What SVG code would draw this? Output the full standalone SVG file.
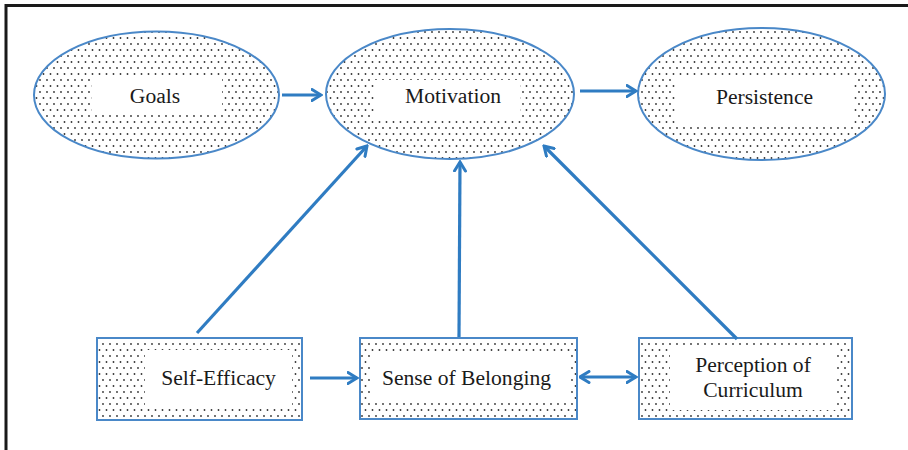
<svg xmlns="http://www.w3.org/2000/svg" width="908" height="450" viewBox="0 0 908 450">
<defs>
<pattern id="dots" width="7" height="12" patternUnits="userSpaceOnUse">
<rect width="7" height="12" fill="#fff"/>
<circle cx="1.5" cy="2" r="0.9" fill="#333"/>
<circle cx="5" cy="8" r="0.9" fill="#333"/>
</pattern>
<marker id="ah" viewBox="0 0 12 14" markerWidth="12" markerHeight="14" refX="10.5" refY="7" orient="auto-start-reverse" markerUnits="userSpaceOnUse">
<path d="M1.5,1.5 L10.5,7 L1.5,12.5" fill="none" stroke="#2f7cc2" stroke-width="3" stroke-linecap="round" stroke-linejoin="miter"/>
</marker>
</defs>
<style>
.node{fill:url(#dots);stroke:#4a88c8;stroke-width:2}
.box{fill:#fff}
.lbl{font-family:"Liberation Serif","Times New Roman",serif;font-size:21.6px;fill:#1a1a1a;text-anchor:middle}
.conn{stroke:#2f7cc2;stroke-width:3.2;fill:none;marker-end:url(#ah)}
.frame{stroke:#1a1a1a;stroke-width:3;fill:none}
</style>
<rect width="908" height="450" fill="#fff"/>
<path class="frame" d="M6,450 L6,5.5 L908,5.5"/>
<g id="goals">
<ellipse class="node" cx="156.5" cy="95" rx="122.5" ry="63.5"/>
<rect class="box" x="92" y="79" width="130" height="34"/>
<text class="lbl" x="155" y="103">Goals</text>
</g>
<g id="motivation">
<ellipse class="node" cx="450" cy="94" rx="124" ry="65"/>
<rect class="box" x="375" y="80" width="145" height="37"/>
<text class="lbl" x="453" y="103">Motivation</text>
</g>
<g id="persistence">
<ellipse class="node" cx="761.5" cy="94" rx="123.5" ry="66"/>
<rect class="box" x="675" y="77" width="178" height="50"/>
<text class="lbl" x="764.5" y="104">Persistence</text>
</g>
<g id="self-efficacy">
<rect class="node" x="97" y="338" width="205" height="82"/>
<rect class="box" x="145" y="350" width="147" height="57"/>
<text class="lbl" x="218.5" y="385">Self-Efficacy</text>
</g>
<g id="sense-of-belonging">
<rect class="node" x="360" y="338" width="217" height="81"/>
<rect class="box" x="370" y="353" width="200" height="47"/>
<text class="lbl" x="466.5" y="385">Sense of Belonging</text>
</g>
<g id="perception-of-curriculum">
<rect class="node" x="639" y="338" width="213" height="81"/>
<rect class="box" x="670" y="347" width="167" height="63"/>
<text class="lbl" x="753" y="372">Perception of</text>
<text class="lbl" x="753" y="397">Curriculum</text>
</g>
<g id="connectors">
<line class="conn" x1="282" y1="95" x2="321" y2="95"/>
<line class="conn" x1="580" y1="91" x2="636" y2="91"/>
<line class="conn" x1="197" y1="333" x2="367" y2="146"/>
<line class="conn" x1="459" y1="337" x2="460" y2="162"/>
<line class="conn" x1="737" y1="339" x2="544" y2="146"/>
<line class="conn" x1="310" y1="378" x2="357" y2="378"/>
<line class="conn" x1="580" y1="377" x2="636" y2="377" style="marker-start:url(#ah)"/>
</g>
</svg>
